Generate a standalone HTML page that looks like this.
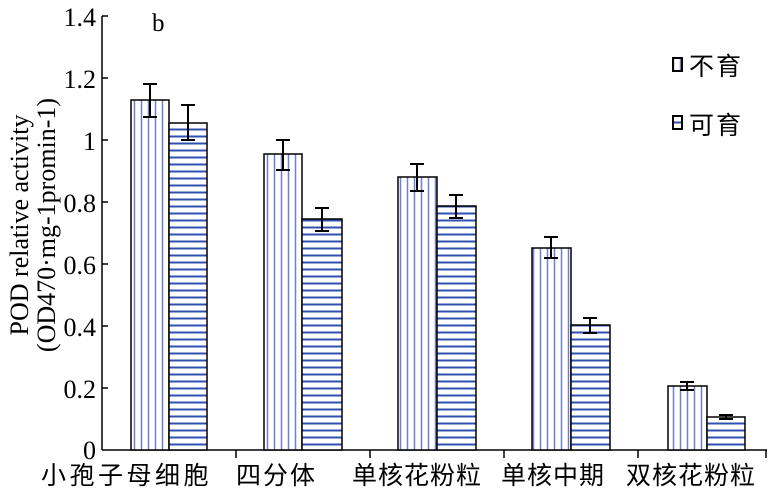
<html><body style="margin:0;background:#fff">
<svg width="774" height="502" xmlns="http://www.w3.org/2000/svg" font-family="Liberation Serif, Noto Serif CJK SC, serif">
<defs>
<pattern id="v" width="7" height="10" patternUnits="userSpaceOnUse" x="131"><rect width="7" height="10" fill="#fff"/><line x1="3.5" y1="0" x2="3.5" y2="10" stroke="#7080c8" stroke-width="1.5"/></pattern>
<pattern id="h" width="10" height="7" patternUnits="userSpaceOnUse"><rect width="10" height="7" fill="#fff"/><line x1="0" y1="3.5" x2="10" y2="3.5" stroke="#3050b0" stroke-width="2"/></pattern>
</defs>
<g stroke="#000" stroke-width="1.5">
<line x1="102" y1="16" x2="102" y2="450"/>
<line x1="102" y1="450" x2="767" y2="450"/>
<g>
<line x1="102" y1="16" x2="108" y2="16"/><line x1="102" y1="78" x2="108" y2="78"/><line x1="102" y1="140" x2="108" y2="140"/><line x1="102" y1="202" x2="108" y2="202"/><line x1="102" y1="264" x2="108" y2="264"/><line x1="102" y1="326" x2="108" y2="326"/><line x1="102" y1="388" x2="108" y2="388"/>
<line x1="236" y1="450" x2="236" y2="458"/><line x1="370" y1="450" x2="370" y2="458"/><line x1="504" y1="450" x2="504" y2="458"/><line x1="638" y1="450" x2="638" y2="458"/><line x1="766" y1="450" x2="766" y2="458"/>
</g>
<rect x="131" y="100" width="38" height="350" fill="url(#v)"/><rect x="169" y="123" width="38" height="327" fill="url(#h)"/>
<rect x="264" y="154" width="38" height="296" fill="url(#v)"/><rect x="302" y="219" width="40" height="231" fill="url(#h)"/>
<rect x="398" y="177" width="39" height="273" fill="url(#v)"/><rect x="437" y="206" width="39" height="244" fill="url(#h)"/>
<rect x="532" y="248" width="39" height="202" fill="url(#v)"/><rect x="571" y="325" width="39" height="125" fill="url(#h)"/>
<rect x="668" y="386" width="39" height="64" fill="url(#v)"/><rect x="707" y="417" width="38" height="33" fill="url(#h)"/>
<g fill="none" stroke-width="2">
<path d="M150 84V117M143 84H157M143 117H157"/>
<path d="M188 105V140M181 105H195M181 140H195"/>
<path d="M283 140V170M276 140H290M276 170H290"/>
<path d="M322 208V231M315 208H329M315 231H329"/>
<path d="M417 164V191M410 164H424M410 191H424"/>
<path d="M456 195V218M449 195H463M449 218H463"/>
<path d="M551 237V258M544 237H558M544 258H558"/>
<path d="M590 318V333M583 318H597M583 333H597"/>
<path d="M687 382V390M680 382H694M680 390H694"/>
<path d="M726 415V419M719 415H733M719 419H733"/>
</g>
<rect x="673" y="58" width="9" height="13" fill="url(#v)" stroke-width="2"/>
<rect x="673" y="116" width="9" height="13" fill="url(#h)" stroke-width="2"/>
</g>
<g font-size="26" text-anchor="end">
<text x="96" y="26">1.4</text><text x="96" y="88">1.2</text><text x="96" y="150">1</text><text x="96" y="212">0.8</text><text x="96" y="274">0.6</text><text x="96" y="336">0.4</text><text x="96" y="398">0.2</text><text x="96" y="459">0</text>
</g>
<text x="152" y="31" font-size="25">b</text>
<g font-size="25" font-family="Liberation Sans, Noto Sans CJK SC, sans-serif" letter-spacing="2">
<text x="689" y="75">不育</text><text x="689" y="134">可育</text>
<text x="41" y="484" letter-spacing="3.5">小孢子母细胞</text><text x="236" y="484">四分体</text><text x="352" y="484" letter-spacing="1">单核花粉粒</text><text x="501" y="484" letter-spacing="1">单核中期</text><text x="626" y="484" letter-spacing="1">双核花粉粒</text>
</g>
<g font-size="26" text-anchor="middle">
<text transform="translate(28,225) rotate(-90)">POD relative activity</text>
<text transform="translate(55,225) rotate(-90)">(OD470·mg-1promin-1)</text>
</g>
</svg>
</body></html>
